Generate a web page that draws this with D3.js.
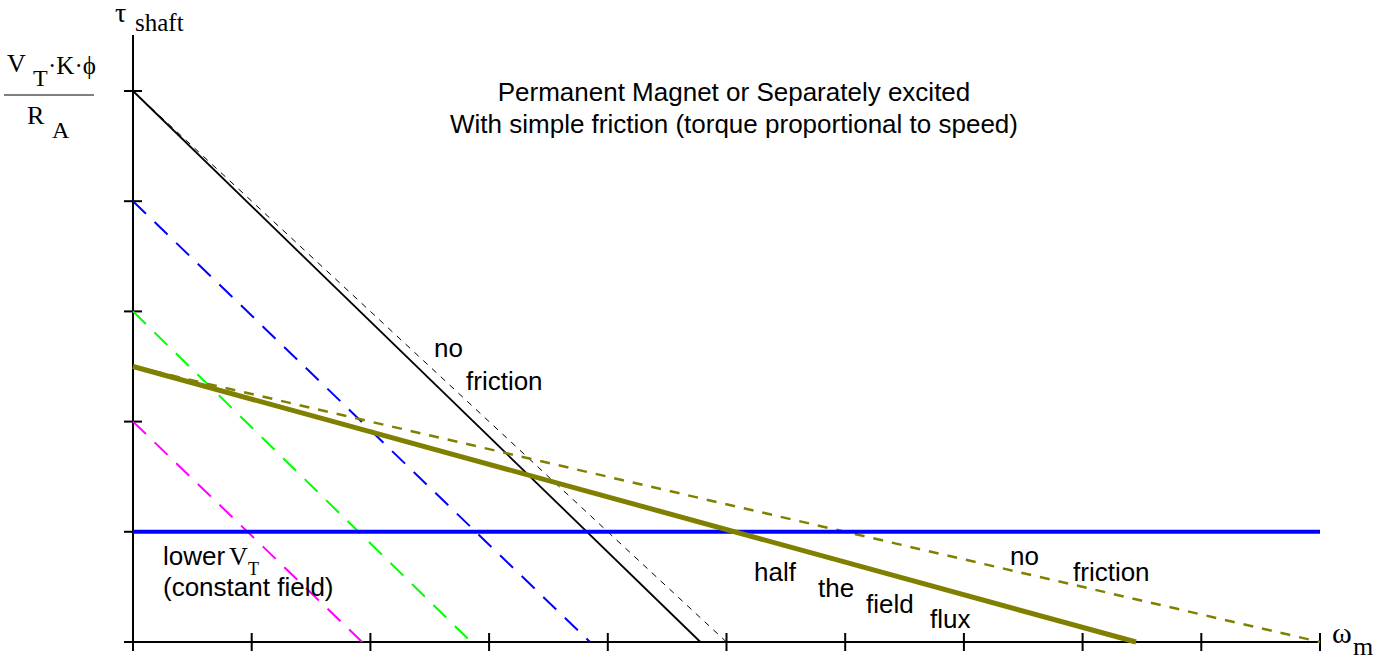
<!DOCTYPE html>
<html>
<head>
<meta charset="utf-8">
<script src="https://cdn.jsdelivr.net/npm/d3@7"></script>
<style>
  html, body { margin: 0; padding: 0; background: #fff; }
  svg { display: block; }
  .sans { font-family: "Liberation Sans", Arial, Helvetica, sans-serif; fill: #000; }
  .serif { font-family: "Liberation Serif", "Times New Roman", serif; fill: #000; }
</style>
</head>
<body>
<svg id="chart" width="1374" height="656"></svg>
<script>
// ---- data (in axis units: speed 0..10, torque 0..5) ----
const xTickValues = [0, 1, 2, 3, 4, 5, 6, 7, 8, 9, 10];
const yTickValues = [0, 1, 2, 3, 4, 5];

// torque-speed characteristics: [speed, torque] endpoints
const fullFluxFriction   = [[0, 5], [4.78, 0]];
const fullFluxNoFriction = [[0, 5], [5.0, 0]];
const lowerVt1           = [[0, 4], [3.85, 0]];
const lowerVt2           = [[0, 3], [2.85, 0]];
const lowerVt3           = [[0, 2], [1.93, 0]];
const loadTorque         = [[0, 1], [10, 1]];
const halfFluxFriction   = [[0, 2.5], [8.45, 0]];
const halfFluxNoFriction = [[0, 2.5], [10, 0]];

const titleLines = ["Permanent Magnet or Separately excited",
                    "With simple friction (torque proportional to speed)"];

// ---- drawing ----
const svg = d3.select("#chart");
const x = d3.scaleLinear().domain([0, 10]).range([133, 1320]);
const y = d3.scaleLinear().domain([0, 5]).range([642, 91]);
const line = d3.line().x(d => x(d[0])).y(d => y(d[1]));

// y axis line (extends above top tick)
svg.append("line").attr("x1", x(0)).attr("x2", x(0)).attr("y1", 35).attr("y2", y(0))
  .attr("stroke", "#000").attr("stroke-width", 2);
// x axis line
svg.append("line").attr("x1", x(0)).attr("x2", x(10)).attr("y1", y(0)).attr("y2", y(0))
  .attr("stroke", "#000").attr("stroke-width", 2);

// ticks (crossing the axes)
svg.append("g").selectAll("line").data(xTickValues).join("line")
  .attr("x1", d => x(d)).attr("x2", d => x(d))
  .attr("y1", y(0) - 9).attr("y2", y(0) + 9)
  .attr("stroke", "#000").attr("stroke-width", 2);
svg.append("g").selectAll("line").data(yTickValues).join("line")
  .attr("x1", x(0) - 9).attr("x2", x(0) + 9)
  .attr("y1", d => y(d)).attr("y2", d => y(d))
  .attr("stroke", "#000").attr("stroke-width", 2);

function drawLine(data, color, width, dash) {
  const p = svg.append("path").datum(data).attr("d", line)
    .attr("fill", "none").attr("stroke", color).attr("stroke-width", width);
  if (dash) p.attr("stroke-dasharray", dash);
  return p;
}

drawLine(lowerVt3, "#ff00ff", 2, "18,12");
drawLine(lowerVt2, "#00ff00", 2, "18,12");
drawLine(lowerVt1, "#0000ff", 2, "18,12");
drawLine(fullFluxNoFriction, "#000", 1, "6,6");
drawLine(fullFluxFriction, "#000", 1.8);
drawLine(halfFluxNoFriction, "#808000", 2.5, "10,9");
drawLine(loadTorque, "#0000ff", 4);
drawLine(halfFluxFriction, "#808000", 5);

// ---- texts ----
const sans = (t, px, py, size, anchor) => svg.append("text").attr("class", "sans")
  .attr("x", px).attr("y", py).attr("font-size", size).attr("text-anchor", anchor || "start").text(t);
const serif = (t, px, py, size) => svg.append("text").attr("class", "serif")
  .attr("x", px).attr("y", py).attr("font-size", size).text(t);

sans(titleLines[0], 734, 101, 26, "middle");
sans(titleLines[1], 734, 133, 26, "middle");

sans("no", 434, 357, 26);
sans("friction", 466, 390, 26);

sans("lower", 163, 565, 26);
serif("V", 229, 565, 26);
serif("T", 248, 575, 18);
sans("(constant field)", 163, 596, 26);

sans("half", 754, 581, 26);
sans("the", 818, 597, 26);
sans("field", 866, 613, 26);
sans("flux", 930, 628, 26);

sans("no", 1010, 565, 26);
sans("friction", 1073, 581, 26);

// axis labels
serif("τ", 115, 22, 28);
serif("shaft", 135, 31, 25);
serif("ω", 1332, 643, 30);
serif("m", 1353, 655, 26);

// V_T·K·ϕ / R_A
serif("V", 7, 72, 26);
serif("T", 33, 86, 24);
serif("·K·ϕ", 48, 74, 25);
svg.append("line").attr("x1", 4).attr("x2", 94).attr("y1", 95).attr("y2", 95)
  .attr("stroke", "#000").attr("stroke-width", 1);
serif("R", 27, 124, 26);
serif("A", 52, 138, 24);
</script>
</body>
</html>
